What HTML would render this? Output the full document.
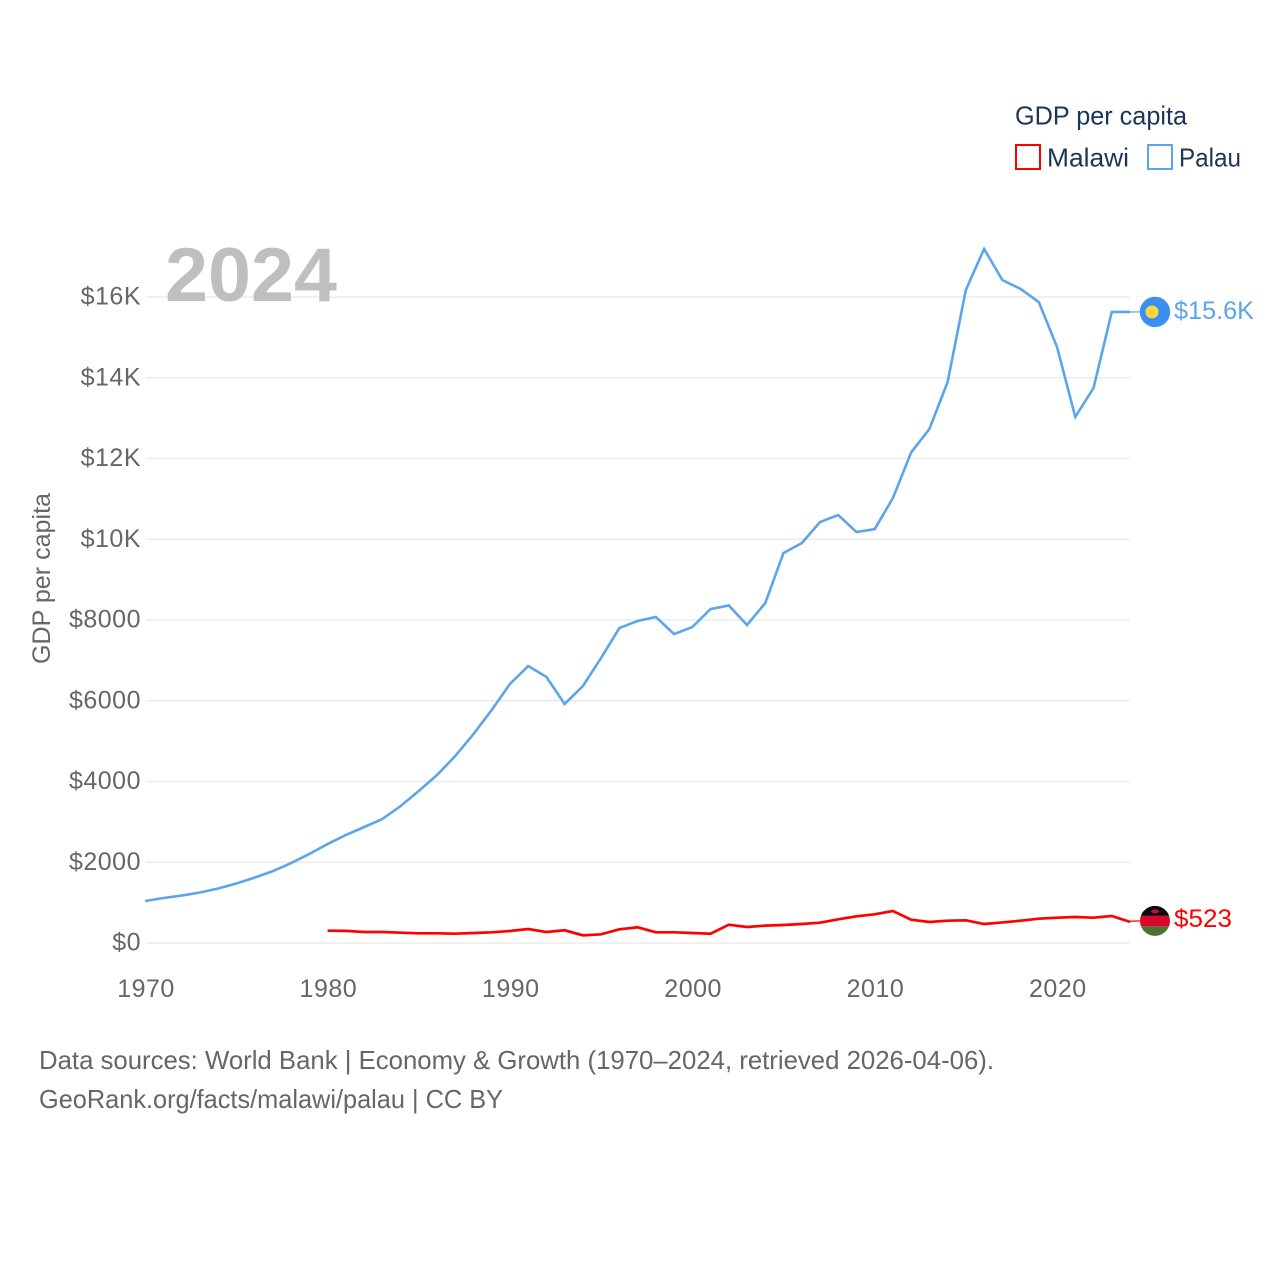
<!DOCTYPE html>
<html lang="en">
<head>
<meta charset="utf-8">
<title>GDP per capita: Malawi and Palau</title>
<style>
  html, body { margin: 0; padding: 0; background: #fff; }
  svg { display: block; font-family: "Liberation Sans", sans-serif; }
</style>
</head>
<body>
<svg id="chart" xmlns="http://www.w3.org/2000/svg" width="1280" height="1280" viewBox="0 0 1280 1280">
  <defs>
    <clipPath id="malawi-clip"><circle id="malawi-clip-circle" cx="1155" cy="920.5" r="15"></circle></clipPath>
  </defs>
  <rect x="0" y="0" width="1280" height="1280" fill="#ffffff"></rect>

  <g id="grid"></g>
  <g id="y-ticks"></g>
  <g id="x-ticks"></g>

  <text x="165" y="301" font-size="76" font-weight="700" fill="#bfbfbf" textLength="172" lengthAdjust="spacingAndGlyphs">2024</text>

  <text transform="translate(50 578.5) rotate(-90)" text-anchor="middle" font-size="25" fill="#666666" textLength="171" lengthAdjust="spacingAndGlyphs">GDP per capita</text>

  <g id="series"></g>
  <g id="ends"></g>

  <g>
    <text x="1015" y="124.5" font-size="26" fill="#1c3557" textLength="172" lengthAdjust="spacingAndGlyphs">GDP per capita</text>
    <g>
      <rect x="1016" y="145" width="24" height="24" fill="none" stroke="#ff0000" stroke-width="2"></rect>
      <text x="1047" y="166.5" font-size="26" fill="#1c3557" textLength="82" lengthAdjust="spacingAndGlyphs">Malawi</text>
    </g>
    <g>
      <rect x="1148" y="145" width="24" height="24" fill="none" stroke="#5da5ea" stroke-width="2"></rect>
      <text x="1179" y="166.5" font-size="26" fill="#1c3557" textLength="62" lengthAdjust="spacingAndGlyphs">Palau</text>
    </g>
  </g>

  <g>
    <text x="39" y="1069" font-size="26" fill="#666666" textLength="955" lengthAdjust="spacingAndGlyphs">Data sources: World Bank | Economy &amp; Growth (1970–2024, retrieved 2026-04-06).</text>
    <text x="39" y="1108" font-size="26" fill="#666666" textLength="464" lengthAdjust="spacingAndGlyphs">GeoRank.org/facts/malawi/palau | CC BY</text>
  </g>
</svg>

<script>
const yTickValues = [0, 2000, 4000, 6000, 8000, 10000, 12000, 14000, 16000];
const yTickLabels = ["$0", "$2000", "$4000", "$6000", "$8000", "$10K", "$12K", "$14K", "$16K"];
const xTickValues = [1970, 1980, 1990, 2000, 2010, 2020];
const xTickLabels = ["1970", "1980", "1990", "2000", "2010", "2020"];

const palauYears = [1970,1971,1972,1973,1974,1975,1976,1977,1978,1979,1980,1981,1982,1983,1984,1985,1986,1987,1988,1989,1990,1991,1992,1993,1994,1995,1996,1997,1998,1999,2000,2001,2002,2003,2004,2005,2006,2007,2008,2009,2010,2011,2012,2013,2014,2015,2016,2017,2018,2019,2020,2021,2022,2023,2024];
const palauValues = [1040,1115,1175,1250,1350,1475,1620,1780,1980,2205,2450,2675,2870,3070,3390,3765,4160,4630,5175,5770,6415,6860,6590,5920,6365,7060,7800,7975,8075,7650,7825,8270,8360,7875,8420,9660,9905,10425,10600,10180,10250,11020,12150,12730,13895,16175,17190,16420,16200,15875,14760,13030,13745,15630,15630];

const malawiYears = [1980,1981,1982,1983,1984,1985,1986,1987,1988,1989,1990,1991,1992,1993,1994,1995,1996,1997,1998,1999,2000,2001,2002,2003,2004,2005,2006,2007,2008,2009,2010,2011,2012,2013,2014,2015,2016,2017,2018,2019,2020,2021,2022,2023,2024];
const malawiValues = [305,300,272,272,255,240,240,230,248,265,297,347,272,315,190,215,340,389,265,265,248,230,453,396,430,446,470,503,587,661,710,793,577,520,552,562,470,510,552,602,627,644,627,669,523];

const palauEndLabel = "$15.6K";
const malawiEndLabel = "$523";

const SVG_NS = "http://www.w3.org/2000/svg";
const PLOT_LEFT = 145.2, PLOT_RIGHT = 1130, PLOT_ZERO_Y = 943, PLOT_16K_Y = 297;
const GRID_LEFT = 146;

function xScale(year) {
  return PLOT_LEFT + (year - 1970) * (PLOT_RIGHT - PLOT_LEFT) / (2024 - 1970);
}
function yScale(value) {
  return PLOT_ZERO_Y - value * (PLOT_ZERO_Y - PLOT_16K_Y) / 16000;
}
function make(tag, attrs, parent, text) {
  const el = document.createElementNS(SVG_NS, tag);
  for (const k in attrs) el.setAttribute(k, attrs[k]);
  if (text !== undefined) el.textContent = text;
  parent.appendChild(el);
  return el;
}

const gridGroup = document.getElementById("grid");
const yGroup = document.getElementById("y-ticks");
const xGroup = document.getElementById("x-ticks");
const seriesGroup = document.getElementById("series");
const endsGroup = document.getElementById("ends");

yTickValues.forEach(function (v, i) {
  const line = make("line", { x1: GRID_LEFT, x2: PLOT_RIGHT, y1: yScale(v), y2: yScale(v), stroke: "#ebebeb", "stroke-width": 1.5 }, gridGroup);
  
  
  const label = make("text", { x: 141, y: yScale(v) + 7.5, "text-anchor": "end", "font-size": 25, fill: "#666666", "letter-spacing": 0.5 }, yGroup, yTickLabels[i]);
  
  
});

xTickValues.forEach(function (v, i) {
  const label = make("text", { x: xScale(v) + 0.8, y: 997, "text-anchor": "middle", "font-size": 25, fill: "#666666", "letter-spacing": 0.5 }, xGroup, xTickLabels[i]);
  
  
});

function linePoints(years, values) {
  return years.map(function (y, i) { return xScale(y).toFixed(2) + "," + yScale(values[i]).toFixed(2); }).join(" ");
}

const palauLine = make("polyline", { points: linePoints(palauYears, palauValues), fill: "none", stroke: "#5da5ea", "stroke-width": 2.6, "stroke-linejoin": "miter" }, seriesGroup);



const malawiLine = make("polyline", { points: linePoints(malawiYears, malawiValues), fill: "none", stroke: "#ff0000", "stroke-width": 2.7, "stroke-linejoin": "miter" }, seriesGroup);



/* Palau end marker */
const palauEndY = yScale(palauValues[palauValues.length - 1]);
const palauConnector = make("line", { x1: PLOT_RIGHT, x2: 1140, y1: palauEndY, y2: palauEndY, stroke: "#5da5ea", "stroke-width": 1.2 }, endsGroup);


const palauFlag = make("circle", { cx: 1155, cy: palauEndY, r: 15.2, fill: "#3a8ff0" }, endsGroup);


const palauMoon = make("circle", { cx: 1152, cy: palauEndY, r: 6.5, fill: "#ffd53d" }, endsGroup);


const palauValueLabel = make("text", { x: 1174, y: palauEndY + 7, "font-size": 25, fill: "#5da5ea", textLength: 80, lengthAdjust: "spacingAndGlyphs" }, endsGroup, palauEndLabel);



/* Malawi end marker */
const malawiEndY = yScale(malawiValues[malawiValues.length - 1]);
const malawiFlagY = malawiEndY - 1;
document.getElementById("malawi-clip-circle").setAttribute("cy", malawiFlagY);
const malawiConnector = make("line", { x1: PLOT_RIGHT, x2: 1140, y1: malawiEndY - 0.6, y2: malawiFlagY, stroke: "#ff0000", "stroke-width": 1.2 }, endsGroup);


const malawiFlag = make("g", { "clip-path": "url(#malawi-clip)" }, endsGroup);


const bandBlack = make("rect", { x: 1139, y: malawiFlagY - 16, width: 32, height: 11, fill: "#0a0a0a" }, malawiFlag);


const bandRed = make("rect", { x: 1139, y: malawiFlagY - 5, width: 32, height: 10.5, fill: "#d9062c" }, malawiFlag);


const bandGreen = make("rect", { x: 1139, y: malawiFlagY + 5.5, width: 32, height: 11, fill: "#4c7431" }, malawiFlag);


const sun = make("ellipse", { cx: 1155, cy: malawiFlagY - 9.5, rx: 4, ry: 2, fill: "#c4122f" }, malawiFlag);


const malawiValueLabel = make("text", { x: 1174, y: malawiEndY + 5, "font-size": 25, fill: "#ff0000", textLength: 58, lengthAdjust: "spacingAndGlyphs" }, endsGroup, malawiEndLabel);


</script>
</body>
</html>
